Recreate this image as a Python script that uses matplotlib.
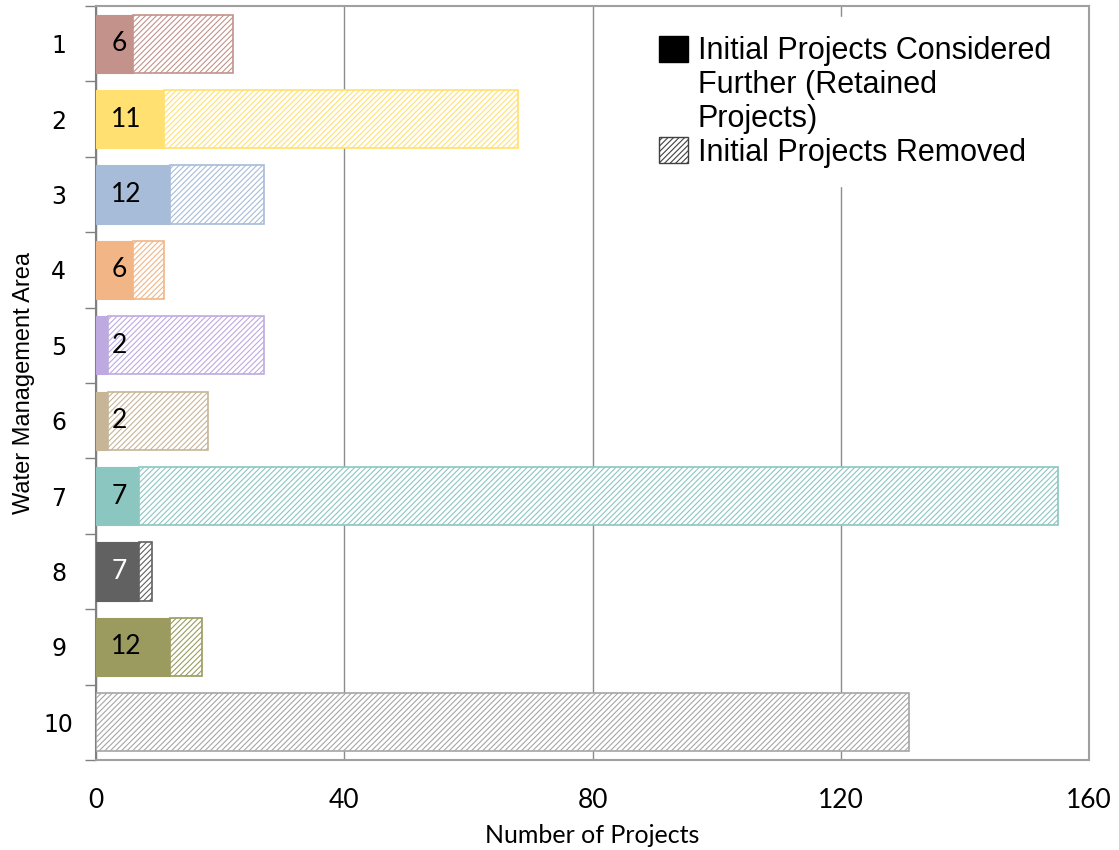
import matplotlib
matplotlib.use("Agg")
import matplotlib.pyplot as plt
from matplotlib.patches import Patch

# data
areas = ["1", "2", "3", "4", "5", "6", "7", "8", "9", "10"]
retained = [6, 11, 12, 6, 2, 2, 7, 7, 12, 0]
removed = [16, 57, 15, 5, 25, 16, 148, 2, 5, 131]
colors = ["#C3928B", "#FFE071", "#A7BCD8", "#F1B586", "#BEAAE0",
          "#C6B697", "#8BC6C1", "#616161", "#9B9B60", "#A6A6A6"]
label_colors = ["black"] * 7 + ["white", "black", "black"]

plt.rcParams["hatch.linewidth"] = 0.8
calibri = ["Lato", "DejaVu Sans"]

fig = plt.figure(figsize=(11.19, 8.5), dpi=100)
ax = fig.add_axes([0.0858, 0.1059, 0.8874, 0.887])

y = list(range(len(areas)))
h = 0.77
for i in y:
    if retained[i] > 0:
        ax.barh(i, retained[i], height=h, color=colors[i], edgecolor=colors[i],
                linewidth=0.8, zorder=3)
    ax.barh(i, removed[i], left=retained[i], height=h, facecolor="white",
            edgecolor=colors[i], hatch="//////", linewidth=1.2, zorder=3)
    if retained[i] > 0:
        ax.annotate(str(retained[i]), xy=(0, i), xytext=(11, 0),
                    textcoords="offset points", ha="left", va="center",
                    fontsize=19, family=calibri, color=label_colors[i], zorder=4)

ax.set_xlim(0, 160)
ax.set_ylim(9.5, -0.5)
ax.set_xticks([0, 40, 80, 120, 160])
ax.set_yticks(y)
ax.set_yticklabels(areas)
ax.set_yticks([i + 0.5 for i in range(-1, 10)], minor=True)
ax.tick_params(axis="y", which="major", length=0, pad=27, labelsize=17)
ax.tick_params(axis="y", which="minor", length=8, width=1, color="#808080")
ax.tick_params(axis="x", length=0, pad=20, labelsize=19)
for lab in ax.get_xticklabels():
    lab.set_family(calibri)
for lab in ax.get_yticklabels():
    lab.set_horizontalalignment("center")
    lab.set_family("DejaVu Sans")

ax.grid(axis="x", color="#8C8C8C", linewidth=1, zorder=0)
for s in ax.spines.values():
    s.set_color("#A0A0A0")
    s.set_linewidth(1.5)
ax.spines["left"].set_color("#808080")

ax.set_xlabel("Number of Projects", fontsize=18, labelpad=8, family=calibri)
ax.set_ylabel("Water Management Area", fontsize=17, labelpad=6,
              family=["Liberation Sans", "DejaVu Sans"])

blank = Patch(facecolor="none", edgecolor="none")
handles = [Patch(facecolor="black", edgecolor="black"), blank, blank,
           Patch(facecolor="white", edgecolor="#404040", hatch="//////")]
labels = ["Initial Projects Considered", "Further (Retained", "Projects)",
          "Initial Projects Removed"]
leg = ax.legend(handles, labels, loc="upper right",
                bbox_to_anchor=(0.98, 0.985), frameon=True, fancybox=False,
                edgecolor="white", framealpha=1,
                prop={"family": ["Liberation Sans", "DejaVu Sans"], "size": 22},
                handlelength=0.95, handleheight=0.95, handletextpad=0.3,
                labelspacing=0.1, borderpad=0.6, borderaxespad=0)
leg.set_zorder(5)

fig.savefig("out.png", dpi=100)
